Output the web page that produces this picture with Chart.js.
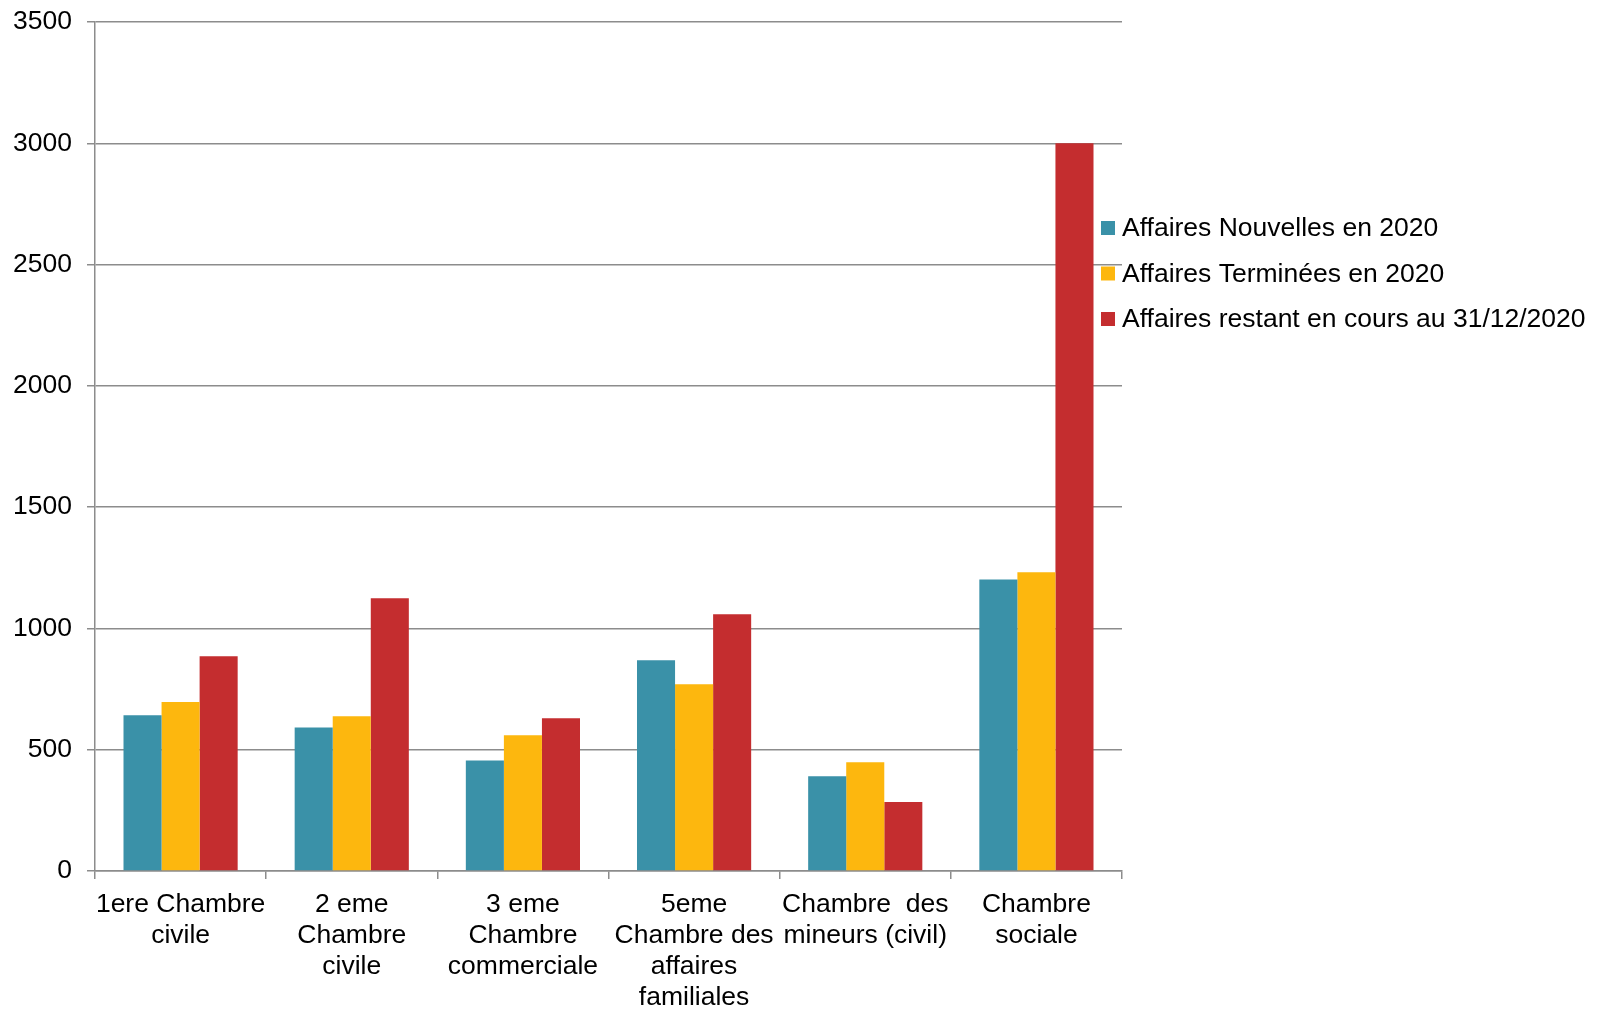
<!DOCTYPE html>
<html>
<head>
<meta charset="utf-8">
<script src="https://cdn.jsdelivr.net/npm/chart.js@4/dist/chart.umd.min.js"></script>
<style>
  html, body { margin: 0; padding: 0; background: #ffffff; }
  #wrap { width: 1599px; height: 1009px; position: relative; }
</style>
</head>
<body>
<div id="wrap"><canvas id="c" width="1599" height="1009"></canvas></div>
<script>
// Chambers (multi-line category labels)
const categories = [
  ["1ere Chambre", "civile"],
  ["2 eme", "Chambre", "civile"],
  ["3 eme", "Chambre", "commerciale"],
  ["5eme", "Chambre des", "affaires", "familiales"],
  ["Chambre  des", "mineurs (civil)"],
  ["Chambre", "sociale"]
];
const seriesNames = [
  "Affaires Nouvelles en 2020",
  "Affaires Terminées en 2020",
  "Affaires restant en cours au 31/12/2020"
];
const nouvelles = [642, 592, 456, 869, 391, 1202];
const terminees = [697, 638, 560, 770, 448, 1232];
const enCours   = [885, 1124, 630, 1058, 284, 3000];
const yMin = 0, yMax = 3500, yStep = 500;

const colors = ["#3A91A8", "#FDB70E", "#C42D2F"];
const gridColor = "#8c8c8c";
const fontFamily = "'Liberation Sans', Arial, sans-serif";
const fontSize = 26.5;

// Legend drawn at the right of the plot, left-aligned
const sideLegend = {
  id: "sideLegend",
  afterDraw(chart) {
    const ctx = chart.ctx;
    const x0 = chart.chartArea.right - 21;
    const rows = [228, 273.5, 319];
    ctx.save();
    ctx.font = fontSize + "px " + fontFamily;
    ctx.textBaseline = "middle";
    ctx.textAlign = "left";
    chart.data.datasets.forEach((ds, i) => {
      ctx.fillStyle = ds.backgroundColor;
      ctx.fillRect(x0, rows[i] - 7, 14, 14);
      ctx.fillStyle = "#000000";
      ctx.fillText(ds.label, x0 + 21, rows[i] + 1);
    });
    ctx.restore();
  }
};

const datasetsData = [nouvelles, terminees, enCours];

new Chart(document.getElementById("c"), {
  type: "bar",
  data: {
    labels: categories,
    datasets: datasetsData.map((d, i) => ({
      label: seriesNames[i],
      data: d,
      backgroundColor: colors[i],
      borderWidth: 0,
      barPercentage: 1.0,
      categoryPercentage: 0.667
    }))
  },
  options: {
    responsive: false,
    animation: false,
    devicePixelRatio: 1,
    layout: { padding: { top: 22, right: 477, bottom: 0, left: 0 } },
    plugins: {
      legend: { display: false },
      tooltip: { enabled: false }
    },
    scales: {
      x: {
        grid: {
          display: true,
          offset: true,
          drawOnChartArea: false,
          drawTicks: true,
          tickLength: 8,
          color: gridColor,
          lineWidth: 1.5
        },
        border: { display: true, color: gridColor, width: 1.5 },
        ticks: {
          color: "#000000",
          font: { family: fontFamily, size: fontSize, lineHeight: 1.17 },
          maxRotation: 0,
          minRotation: 0,
          autoSkip: false,
          padding: 10
        },
        afterFit(scale) { scale.height = 138; }
      },
      y: {
        min: yMin,
        max: yMax,
        grid: {
          color: gridColor,
          lineWidth: 1.5,
          drawTicks: true,
          tickLength: 8
        },
        border: { display: true, color: gridColor, width: 1.5 },
        ticks: {
          stepSize: yStep,
          color: "#000000",
          font: { family: fontFamily, size: fontSize },
          padding: 15,
          callback: (v) => String(v)
        },
        afterFit(scale) {
          scale.width = 95;
          scale.paddingTop = 0;
          scale.paddingBottom = 0;
        }
      }
    }
  },
  plugins: [sideLegend]
});
</script>
</body>
</html>
